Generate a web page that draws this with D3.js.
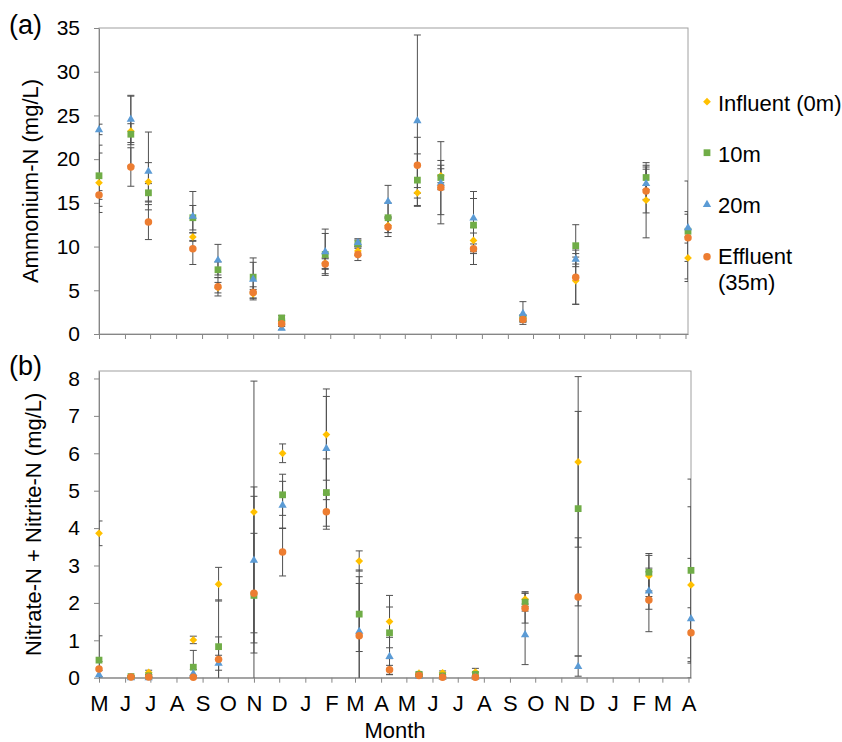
<!DOCTYPE html>
<html>
<head>
<meta charset="utf-8">
<script src="https://cdn.jsdelivr.net/npm/d3@7/dist/d3.min.js"></script>
<style>
  body { margin: 0; background: #fff; }
  text { font-family: "Liberation Sans", Arial, sans-serif; fill: #000; }
</style>
</head>
<body>
<svg id="chart" width="842" height="742"></svg>
<script>
// sampling dates (shared by both panels)
const sampleDates = ["2013-05-01", "2013-06-08", "2013-06-29", "2013-08-21", "2013-09-20", "2013-11-01",
  "2013-12-05", "2014-01-26", "2014-03-06", "2014-04-11", "2014-05-16", "2014-06-13", "2014-07-22",
  "2014-09-19", "2014-11-21", "2015-02-13", "2015-04-04"];

const monthLetters = ["M", "J", "J", "A", "S", "O", "N", "D", "J", "F", "M", "A",
  "M", "J", "J", "A", "S", "O", "N", "D", "J", "F", "M", "A"];

const seriesNames = ["Influent (0m)", "10m", "20m", "Effluent (35m)"];

// (a) ammonium-N, mg/L
const influentNH4 = [17.3, 23.2, 17.4, 11.1, 5.3, 4.6, 1.4, 8.1, 9.5, 12.4, 16.15, 18.1, 10.7, 1.8, 6.1, 15.3, 8.7];
const m10NH4 = [18.1, 22.85, 16.15, 13.3, 7.35, 6.5, 1.83, 9.1, 10.35, 13.3, 17.6, 17.9, 12.45, 1.8, 10.1, 17.9, 11.75];
const m20NH4 = [23.4, 24.6, 18.65, 13.5, 8.5, 6.3, 0.7, 9.45, 10.5, 15.2, 24.45, 17.3, 13.3, 2.4, 8.6, 17.25, 12.2];
const effNH4 = [15.9, 19.1, 12.8, 9.75, 5.4, 4.75, 1.18, 8.0, 9.1, 12.25, 19.3, 16.75, 9.75, 1.65, 6.5, 16.35, 11.0];
const influentNH4Err = [3.4, 4.0, 2.2, 0.5, 0.6, 0.5, 0.3, 0.6, 0.5, 0.8, 0.6, 0.8, 1.5, 0.4, 2.7, 4.3, 2.4];
const m10NH4Err = [3.5, 1.2, 1.05, 1.4, 0.9, 1.7, 0.3, 2.4, 0.4, 1.7, 3.0, 1.4, 3.05, 0.3, 2.4, 1.4, 5.75];
const m20NH4Err = [0.6, 2.7, 4.45, 2.8, 1.75, 2.4, 0.2, 2.55, 0.4, 1.8, 9.75, 4.7, 3.0, 1.3, 0.6, 1.85, 1.8];
const effNH4Err = [0.5, 2.2, 2.0, 1.8, 1.05, 0.65, 0.3, 0.6, 0.7, 1.1, 3.2, 3.1, 1.8, 0.3, 3.1, 2.5, 2.7];

// (b) nitrate-N + nitrite-N, mg/L
const influentNOx = [3.86, 0.02, 0.14, 1.01, 2.5, 4.43, 6.0, 6.5, 3.12, 1.5, 0.12, 0.13, 0.15, 2.1, 5.77, 2.72, 2.48];
const m10NOx = [0.47, 0.03, 0.05, 0.28, 0.83, 2.2, 4.89, 4.95, 1.7, 1.2, 0.09, 0.05, 0.09, 2.02, 4.52, 2.82, 2.87];
const m20NOx = [0.09, 0.01, 0.01, 0.12, 0.4, 3.15, 4.62, 6.14, 1.25, 0.58, 0.05, 0.02, 0.02, 1.16, 0.31, 2.33, 1.59];
const effNOx = [0.23, 0.02, 0.02, 0.01, 0.49, 2.26, 3.36, 4.44, 1.12, 0.21, 0.06, 0.01, 0.01, 1.86, 2.16, 2.08, 1.2];
const influentNOxErr = [0.33, 0.02, 0.06, 0.1, 0.45, 3.5, 0.25, 1.22, 0.27, 0.7, 0.03, 0.05, 0.1, 0.2, 2.28, 0.55, 2.09];
const m10NOxErr = [0.65, 0.02, 0.03, 0.45, 1.25, 2.65, 0.55, 0.9, 1.0, 0.69, 0.03, 0.03, 0.05, 0.24, 2.6, 0.5, 2.44];
const m20NOxErr = [0.1, 0.01, 0.01, 0.1, 0.2, 1.95, 0.63, 1.38, 1.63, 0.5, 0.02, 0.02, 0.02, 0.81, 0.27, 0.5, 1.6];
const effNOxErr = [0.2, 0.02, 0.02, 0.02, 0.6, 1.6, 0.64, 0.47, 1.4, 0.12, 0.03, 0.02, 0.02, 0.4, 1.58, 0.85, 0.67];

const colors = ["#ffc000", "#70ad47", "#5b9bd5", "#ed7d31"];
const shapes = ["diamond", "square", "triangle", "circle"];

const parse = d3.timeParse("%Y-%m-%d");
const dates = sampleDates.map(parse);
const xStart = parse("2013-05-01"), xEnd = parse("2015-04-04");
const monthTicks = d3.timeMonth.range(xStart, parse("2015-04-02"));

const svg = d3.select("#chart");

function marker(sel, shape, color) {
  if (shape === "diamond") {
    sel.append("path").attr("d", d3.symbol(d3.symbolSquare, 30)()).attr("transform", "rotate(45)");
  } else if (shape === "square") {
    sel.append("path").attr("d", d3.symbol(d3.symbolSquare, 46)());
  } else if (shape === "triangle") {
    sel.append("path").attr("d", d3.symbol(d3.symbolTriangle, 30)()).attr("transform", "translate(0,0.5)");
  } else {
    sel.append("path").attr("d", d3.symbol(d3.symbolCircle, 44)());
  }
  sel.selectAll("path").attr("fill", color);
}

const panels = [
  {
    id: "a", label: "(a)", labelY: 34, title: "Ammonium-N (mg/L)", titleX: 38,
    left: 99, right: 688, top: 28, bottom: 334, yMax: 35, yTicks: d3.range(0, 36, 5),
    showMonths: false,
    values: [influentNH4, m10NH4, m20NH4, effNH4],
    errors: [influentNH4Err, m10NH4Err, m20NH4Err, effNH4Err]
  },
  {
    id: "b", label: "(b)", labelY: 375, title: "Nitrate-N + Nitrite-N (mg/L)", titleX: 41,
    left: 99, right: 691, top: 371, bottom: 677.7, yMax: 8.2, yTicks: d3.range(0, 9, 1),
    showMonths: true,
    values: [influentNOx, m10NOx, m20NOx, effNOx],
    errors: [influentNOxErr, m10NOxErr, m20NOxErr, effNOxErr]
  }
];

panels.forEach(p => {
  const x = d3.scaleTime().domain([xStart, xEnd]).range([p.left, p.right]);
  const y = d3.scaleLinear().domain([0, p.yMax]).range([p.bottom, p.top]);
  const g = svg.append("g");

  g.append("clipPath").attr("id", "clip-" + p.id)
    .append("rect").attr("x", p.left).attr("y", p.top)
    .attr("width", p.right - p.left).attr("height", p.bottom - p.top);

  // frame
  g.append("rect").attr("x", p.left).attr("y", p.top)
    .attr("width", p.right - p.left).attr("height", p.bottom - p.top)
    .attr("fill", "none").attr("stroke", "#a0a0a0").attr("stroke-width", 1);

  const yAxis = g.append("g").attr("transform", `translate(${p.left},0)`)
    .call(d3.axisLeft(y).tickValues(p.yTicks).tickSize(5).tickSizeOuter(0).tickPadding(14));
  yAxis.selectAll("text").attr("font-size", 21).attr("font-family", null);

  const xAxis = g.append("g").attr("transform", `translate(0,${p.bottom})`)
    .call(d3.axisBottom(x).tickValues(monthTicks).tickSize(5).tickSizeOuter(0).tickPadding(12.5)
      .tickFormat((d, i) => p.showMonths ? monthLetters[i] : ""));
  xAxis.selectAll("text").attr("font-size", 22).attr("font-family", null);

  [yAxis, xAxis].forEach(a => {
    a.selectAll("path, line").attr("stroke", "#868686");
  });

  // error bars
  const eb = g.append("g").attr("clip-path", `url(#clip-${p.id})`)
    .attr("stroke", "#505050").attr("stroke-width", 1).attr("fill", "none");
  p.values.forEach((vals, s) => {
    vals.forEach((v, i) => {
      const e = p.errors[s][i];
      const cx = x(dates[i]);
      eb.append("line").attr("x1", cx).attr("x2", cx).attr("y1", y(v - e)).attr("y2", y(v + e));
      [v - e, v + e].forEach(c => {
        eb.append("line").attr("x1", cx - 3.5).attr("x2", cx + 3.5).attr("y1", y(c)).attr("y2", y(c));
      });
    });
  });

  // markers
  p.values.forEach((vals, s) => {
    vals.forEach((v, i) => {
      const m = g.append("g").attr("transform", `translate(${x(dates[i])},${y(v)})`);
      marker(m, shapes[s], colors[s]);
    });
  });

  g.append("text").attr("x", 9).attr("y", p.labelY).attr("font-size", 27).text(p.label);
  g.append("text").attr("transform", `translate(${p.titleX},${(p.top + p.bottom) / 2}) rotate(-90)`)
    .attr("text-anchor", "middle").attr("font-size", 22).text(p.title);
});

svg.append("text").attr("x", 395).attr("y", 738).attr("text-anchor", "middle")
  .attr("font-size", 22).text("Month");

// legend
const legendY = [101.7, 152.7, 204, 256.7];
seriesNames.forEach((name, s) => {
  const m = svg.append("g").attr("transform", `translate(707,${legendY[s]})`);
  marker(m, shapes[s], colors[s]);
  if (name.startsWith("Effluent")) {
    svg.append("text").attr("x", 718).attr("y", legendY[s] + 7.5).attr("font-size", 22).text("Effluent");
    svg.append("text").attr("x", 718).attr("y", legendY[s] + 33).attr("font-size", 22).text("(35m)");
  } else {
    svg.append("text").attr("x", 718).attr("y", legendY[s] + 9).attr("font-size", 22).text(name);
  }
});
</script>
</body>
</html>
